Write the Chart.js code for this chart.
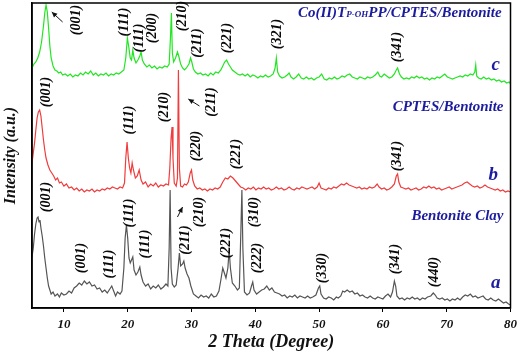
<!DOCTYPE html>
<html>
<head>
<meta charset="utf-8">
<script src="https://cdn.jsdelivr.net/npm/chart.js@4/dist/chart.umd.min.js"></script>
<style>
  html,body{margin:0;padding:0;background:#fff;}
  #wrap{width:522px;height:354px;}
</style>
</head>
<body>
<div id="wrap"><canvas id="xrd" width="522" height="354"></canvas></div>
<script>
// x axis (2 theta) ticks
const xTicks = [10, 20, 30, 40, 50, 60, 70, 80];

// a - Bentonite clay (gray), [2theta, intensity offset units]
const curveA = [
  [5.0,51],[5.2,60],[5.4,74],[5.6,84],[5.8,90],[5.95,91],[6.1,86],[6.25,88],[6.4,80],[6.6,72],
  [6.8,62],[7.0,50],[7.2,40],[7.4,30],[7.6,22],[7.8,18],[8.0,14],[8.3,16],[8.6,12],[9.0,14],
  [9.3,11],[9.6,15],[10.0,13],[10.4,14],[10.8,17],[11.2,15],[11.6,20],[12.0,22],[12.4,25],[12.8,23],
  [13.2,27],[13.6,24],[14.0,26],[14.4,22],[14.8,23],[15.2,19],[15.6,20],[16.0,16],[16.4,18],[16.8,15],
  [17.2,19],[17.5,22],[17.8,17],[18.1,12],[18.4,16],[18.8,14],[19.1,17],[19.4,40],[19.6,70],[19.8,83],
  [20.0,70],[20.2,50],[20.4,45],[20.6,48],[20.8,51],[21.0,38],[21.3,33],[21.6,36],[21.9,41],[22.1,33],
  [22.4,26],[22.8,22],[23.2,24],[23.6,19],[24.0,22],[24.4,20],[24.8,23],[25.2,19],[25.6,21],[26.0,24],
  [26.3,22],[26.5,60],[26.65,118],[26.8,40],[27.0,24],[27.3,21],[27.6,23],[27.9,40],[28.1,55],[28.3,42],
  [28.6,44],[28.8,47],[29.0,40],[29.3,34],[29.6,30],[29.9,22],[30.3,14],[30.7,12],[31.1,10],[31.5,13],
  [31.9,11],[32.3,12],[32.7,10],[33.1,14],[33.5,11],[33.9,12],[34.3,17],[34.6,28],[34.9,40],[35.1,36],
  [35.4,30],[35.7,40],[35.9,58],[36.1,40],[36.4,25],[36.8,22],[37.2,18],[37.5,20],[37.75,80],[37.9,118],
  [38.05,60],[38.3,16],[38.7,13],[39.1,15],[39.4,22],[39.6,26],[39.8,18],[40.2,14],[40.6,16],[41.0,18],
  [41.4,19],[41.8,22],[42.2,18],[42.6,20],[43.0,16],[43.4,15],[43.8,14],[44.2,12],[44.6,13],[45.0,10],
  [45.4,12],[45.8,11],[46.2,13],[46.6,10],[47.0,12],[47.4,11],[47.8,10],[48.2,12],[48.6,10],[49.0,11],
  [49.5,13],[49.9,20],[50.1,22],[50.3,14],[50.7,10],[51.1,9],[51.5,11],[51.9,10],[52.3,8],[52.7,11],
  [53.0,10],[53.4,12],[53.7,17],[54.0,16],[54.4,18],[54.8,16],[55.2,17],[55.6,14],[56.0,15],[56.4,12],
  [56.8,13],[57.2,11],[57.6,10],[58.0,12],[58.4,10],[58.8,9],[59.2,11],[59.6,10],[60.0,9],[60.4,12],
  [60.8,14],[61.2,11],[61.5,16],[61.8,27],[62.0,22],[62.2,12],[62.6,9],[63.0,10],[63.4,8],[63.8,10],
  [64.2,9],[64.6,11],[65.0,9],[65.4,10],[65.8,8],[66.2,10],[66.6,9],[67.0,11],[67.5,12],[67.9,15],
  [68.2,13],[68.5,10],[68.9,9],[69.3,10],[69.7,8],[70.1,9],[70.5,7],[70.9,9],[71.3,8],[71.7,10],
  [72.1,8],[72.5,11],[72.9,13],[73.3,12],[73.7,14],[74.1,11],[74.5,12],[74.9,10],[75.3,11],[75.7,12],
  [76.1,9],[76.5,8],[76.9,10],[77.3,8],[77.7,7],[78.1,9],[78.5,7],[78.9,5],[79.3,6],[79.7,4],[80.0,3]
];

// b - CPTES/Bentonite (red)
const curveB = [
  [5.0,145],[5.2,155],[5.4,165],[5.6,178],[5.8,190],[6.0,196],[6.2,198],[6.4,192],[6.6,180],[6.8,168],
  [7.0,158],[7.2,150],[7.5,143],[7.8,138],[8.1,135],[8.4,132],[8.7,128],[9.0,130],[9.3,125],[9.6,126],
  [10.0,122],[10.4,124],[10.8,120],[11.2,121],[11.6,118],[12.0,120],[12.4,117],[12.8,119],[13.2,116],[13.6,118],
  [14.0,117],[14.4,119],[14.8,116],[15.2,118],[15.6,117],[16.0,119],[16.4,118],[16.8,120],[17.2,119],[17.6,121],
  [18.0,120],[18.4,119],[18.8,121],[19.2,120],[19.5,125],[19.7,150],[19.9,166],[20.1,150],[20.3,140],[20.5,135],
  [20.7,145],[20.9,138],[21.2,130],[21.5,132],[21.8,138],[22.1,128],[22.4,124],[22.8,126],[23.2,121],[23.6,124],
  [24.0,122],[24.4,125],[24.8,121],[25.2,123],[25.6,122],[26.0,124],[26.4,123],[26.6,140],[26.8,170],[26.95,181],
  [27.1,150],[27.3,125],[27.6,122],[27.8,130],[27.95,238],[28.1,140],[28.3,122],[28.6,121],[28.9,124],[29.2,123],
  [29.5,126],[29.8,135],[30.0,138],[30.2,128],[30.5,122],[30.9,119],[31.3,120],[31.7,118],[32.1,119],[32.5,117],
  [32.9,119],[33.3,118],[33.7,120],[34.1,119],[34.5,121],[34.9,126],[35.3,130],[35.7,129],[36.1,132],[36.5,130],
  [36.9,127],[37.3,124],[37.7,121],[38.1,120],[38.5,118],[38.9,120],[39.3,119],[39.7,121],[40.1,118],[40.5,120],
  [40.9,119],[41.3,121],[41.7,119],[42.1,120],[42.5,118],[42.9,119],[43.3,121],[43.7,119],[44.1,120],[44.5,118],
  [44.9,119],[45.3,121],[45.7,119],[46.1,118],[46.5,120],[46.9,119],[47.3,121],[47.7,120],[48.1,119],[48.5,120],
  [48.9,121],[49.3,119],[49.7,121],[50.0,125],[50.3,120],[50.7,119],[51.1,118],[51.5,120],[51.9,119],[52.3,121],
  [52.7,120],[53.1,122],[53.5,124],[53.9,123],[54.3,125],[54.7,123],[55.1,122],[55.5,121],[55.9,120],[56.3,121],
  [56.7,119],[57.1,120],[57.5,119],[57.9,121],[58.3,120],[58.7,121],[59.1,124],[59.4,121],[59.8,119],[60.2,120],
  [60.6,118],[61.0,119],[61.4,121],[61.8,124],[62.1,132],[62.3,134],[62.5,126],[62.8,121],[63.2,120],[63.6,119],
  [64.0,120],[64.4,118],[64.8,119],[65.2,120],[65.6,118],[66.0,119],[66.4,121],[66.8,120],[67.2,122],[67.6,120],
  [68.0,121],[68.4,119],[68.8,120],[69.2,118],[69.6,119],[70.0,120],[70.4,121],[70.8,119],[71.2,120],[71.6,121],
  [72.0,122],[72.4,123],[72.8,125],[73.2,126],[73.6,124],[74.0,122],[74.4,121],[74.8,122],[75.2,120],[75.6,121],
  [76.0,123],[76.4,121],[76.8,120],[77.2,119],[77.6,118],[78.0,119],[78.4,117],[78.8,118],[79.2,116],[79.6,117],[80.0,116]
];

// c - Co(II)TP-OHPP/CPTES/Bentonite (green)
const curveC = [
  [5.0,240],[5.3,244],[5.6,246],[5.9,250],[6.2,256],[6.5,266],[6.8,282],[7.0,295],[7.2,303],[7.4,296],
  [7.6,280],[7.8,262],[8.0,250],[8.3,242],[8.6,238],[8.9,237],[9.2,235],[9.5,236],[9.8,233],[10.2,234],
  [10.6,232],[11.0,234],[11.4,231],[11.8,233],[12.2,232],[12.6,235],[13.0,233],[13.4,236],[13.8,234],[14.2,237],
  [14.6,233],[15.0,235],[15.4,232],[15.8,234],[16.2,233],[16.6,235],[17.0,232],[17.4,234],[17.8,233],[18.2,235],
  [18.6,234],[19.0,236],[19.4,238],[19.7,250],[19.95,270],[20.15,262],[20.4,250],[20.6,248],[20.8,258],[21.0,250],
  [21.3,245],[21.6,248],[21.9,252],[22.1,256],[22.3,248],[22.6,244],[23.0,241],[23.4,243],[23.8,240],[24.2,242],
  [24.6,239],[25.0,241],[25.4,240],[25.8,242],[26.2,241],[26.5,244],[26.7,270],[26.85,295],[27.0,255],[27.2,246],
  [27.5,250],[27.8,256],[28.0,252],[28.3,244],[28.6,240],[28.9,238],[29.2,240],[29.6,244],[29.85,250],[30.05,246],
  [30.3,239],[30.6,236],[31.0,234],[31.4,235],[31.8,233],[32.2,234],[32.6,232],[33.0,235],[33.4,233],[33.8,236],
  [34.2,235],[34.6,238],[34.9,242],[35.2,246],[35.5,248],[35.8,244],[36.1,241],[36.4,238],[36.8,236],[37.2,234],
  [37.6,233],[38.0,234],[38.4,232],[38.8,234],[39.2,231],[39.6,233],[40.0,232],[40.4,230],[40.8,232],[41.2,231],
  [41.6,233],[42.0,231],[42.4,232],[42.8,234],[43.1,240],[43.3,250],[43.5,236],[43.8,232],[44.2,230],[44.6,231],
  [45.0,233],[45.3,235],[45.6,231],[46.0,229],[46.4,231],[46.8,234],[47.2,230],[47.6,229],[48.0,231],[48.4,229],
  [48.8,230],[49.2,228],[49.6,230],[50.0,231],[50.4,234],[50.8,229],[51.2,228],[51.6,230],[52.0,229],[52.4,231],
  [52.8,229],[53.2,230],[53.6,232],[54.0,231],[54.4,233],[54.8,234],[55.2,231],[55.6,230],[56.0,229],[56.4,231],
  [56.8,230],[57.2,229],[57.6,231],[58.0,230],[58.4,231],[58.8,233],[59.2,236],[59.5,232],[59.8,231],[60.2,234],
  [60.6,232],[61.0,230],[61.4,231],[61.8,234],[62.1,238],[62.3,240],[62.6,234],[62.9,231],[63.3,229],[63.7,230],
  [64.1,229],[64.5,231],[64.9,230],[65.3,232],[65.7,230],[66.1,231],[66.5,229],[66.9,230],[67.3,228],[67.7,230],
  [68.1,229],[68.5,231],[68.9,230],[69.3,232],[69.7,234],[70.1,231],[70.5,230],[70.9,229],[71.3,230],[71.7,231],
  [72.1,232],[72.5,231],[72.9,233],[73.3,232],[73.7,234],[74.1,233],[74.4,236],[74.55,243],[74.7,232],[75.0,230],
  [75.4,229],[75.8,231],[76.2,229],[76.6,230],[77.0,228],[77.4,229],[77.8,227],[78.2,228],[78.6,226],[79.0,227],
  [79.4,225],[79.8,226],[80.0,224]
];

// Miller index labels: [text, 2theta, intensity]
const hklLabels = [
  ['(001)',12.0,288],['(111)',19.5,286],['(111)',21.9,270],['(200)',23.9,280],['(210)',28.6,292],
  ['(211)',30.9,265],['(221)',35.6,270],['(321)',43.4,274],['(341)',62.3,261],
  ['(001)',7.2,216],['(111)',20.3,188],['(210)',25.8,201],['(211)',33.1,206],['(220)',30.8,162],
  ['(221)',37.0,154],['(341)',62.3,152],
  ['(001)',7.3,111],['(001)',12.8,50],['(111)',17.2,44],['(111)',20.3,95],['(111)',22.7,64],
  ['(211)',29.1,68],['(210)',31.25,96],['(221)',35.5,65],['(310)',39.8,96],['(222)',40.3,50],
  ['(330)',50.5,40],['(341)',61.9,49],['(440)',68.1,36]
];

// arrows: [tail 2theta, tail y, head 2theta, head y]
const arrows = [
  [9.8,286,8.1,296],
  [31.25,202,29.5,209],
  [27.8,91,28.6,101]
];

// sample names and letters: [text, 2theta, intensity]
const sampleNames = [
  ['CPTES/Bentonite',78.9,201],
  ['Bentonite Clay',78.9,92]
];
const sampleLetters = [['c',77.7,243],['b',77.3,133],['a',77.7,25]];

const SERIF = "'Liberation Serif', 'DejaVu Serif', serif";
const BLUE = '#1c1c9e';

const decor = {
  id: 'decor',
  afterDatasetsDraw(chart){
    const {ctx, chartArea:a, scales:{x, y}} = chart;
    ctx.save();
    // frame
    ctx.strokeStyle = '#000'; ctx.lineWidth = 1.5;
    ctx.strokeRect(a.left, a.top, a.right - a.left, a.bottom - a.top);

    // hkl labels, rotated
    ctx.fillStyle = '#0a0a0a';
    ctx.font = 'italic bold 14px ' + SERIF;
    ctx.textAlign = 'center'; ctx.textBaseline = 'middle';
    hklLabels.forEach(([t, px, py]) => {
      ctx.save();
      ctx.translate(x.getPixelForValue(px), y.getPixelForValue(py));
      ctx.rotate(-Math.PI/2);
      ctx.fillText(t, 0, 0);
      ctx.restore();
    });

    // arrows
    ctx.strokeStyle = '#111'; ctx.fillStyle = '#111'; ctx.lineWidth = 1;
    arrows.forEach(([x0, y0, x1, y1]) => {
      const ax = x.getPixelForValue(x0), ay = y.getPixelForValue(y0);
      const bx = x.getPixelForValue(x1), by = y.getPixelForValue(y1);
      const ang = Math.atan2(by - ay, bx - ax);
      ctx.beginPath(); ctx.moveTo(ax, ay); ctx.lineTo(bx, by); ctx.stroke();
      ctx.beginPath();
      ctx.moveTo(bx, by);
      ctx.lineTo(bx - 6*Math.cos(ang - 0.45), by - 6*Math.sin(ang - 0.45));
      ctx.lineTo(bx - 6*Math.cos(ang + 0.45), by - 6*Math.sin(ang + 0.45));
      ctx.closePath(); ctx.fill();
    });

    // sample names
    ctx.fillStyle = BLUE;
    ctx.textAlign = 'right';
    ctx.font = 'italic bold 15px ' + SERIF;
    sampleNames.forEach(([t, px, py]) => {
      ctx.fillText(t, x.getPixelForValue(px), y.getPixelForValue(py));
    });
    // top name with small-cap "P-OH" part
    const parts = [['Co(II)T',15],['P-OH',9],['PP/CPTES/Bentonite',15]];
    let cx = x.getPixelForValue(78.6);
    const cy = y.getPixelForValue(295);
    ctx.textAlign = 'left';
    let total = 0;
    parts.forEach(([t, s]) => { ctx.font = 'italic bold ' + s + 'px ' + SERIF; total += ctx.measureText(t).width; });
    cx -= total;
    parts.forEach(([t, s]) => {
      ctx.font = 'italic bold ' + s + 'px ' + SERIF;
      ctx.fillText(t, cx, cy + (s < 15 ? 2 : 0));
      cx += ctx.measureText(t).width;
    });

    ctx.font = 'italic bold 19px ' + SERIF;
    ctx.textAlign = 'center';
    sampleLetters.forEach(([t, px, py]) => {
      ctx.fillText(t, x.getPixelForValue(px), y.getPixelForValue(py));
    });
    ctx.restore();
  }
};

const toXY = arr => arr.map(([a, b]) => ({x: a, y: b}));

new Chart(document.getElementById('xrd').getContext('2d'), {
  type: 'line',
  data: {
    datasets: [
      { label: 'a', data: toXY(curveA), borderColor: '#555555', borderWidth: 1.2, pointRadius: 0 },
      { label: 'b', data: toXY(curveB), borderColor: '#f03c3c', borderWidth: 1.2, pointRadius: 0 },
      { label: 'c', data: toXY(curveC), borderColor: '#22e622', borderWidth: 1.2, pointRadius: 0 }
    ]
  },
  options: {
    responsive: false,
    animation: false,
    devicePixelRatio: 1,
    layout: { padding: { top: 3, right: 10, left: 0, bottom: 0 } },
    plugins: { legend: { display: false }, tooltip: { enabled: false } },
    scales: {
      x: {
        type: 'linear', min: 5, max: 80,
        afterBuildTicks: s => { s.ticks = xTicks.map(v => ({value: v})); },
        afterFit: s => { s.height = 46; },
        grid: { drawOnChartArea: false, drawTicks: true, tickLength: 4, color: '#000' },
        border: { display: true, color: '#000', width: 1.5 },
        ticks: { color: '#111', padding: 5, font: { family: SERIF, size: 13, style: 'italic', weight: 'bold' } },
        title: { display: true, text: '2 Theta (Degree)', color: '#111', padding: { top: 0, bottom: 1 },
                 font: { family: SERIF, size: 18, style: 'italic', weight: 'bold' } }
      },
      y: {
        min: 0, max: 305,
        afterFit: s => { s.width = 32; },
        ticks: { display: false },
        grid: { display: false },
        border: { display: true, color: '#000', width: 1.5 },
        title: { display: true, text: 'Intensity (a.u.)', color: '#111', padding: 1,
                 font: { family: SERIF, size: 16, style: 'italic', weight: 'bold' } }
      }
    }
  },
  plugins: [decor]
});
</script>
</body>
</html>
